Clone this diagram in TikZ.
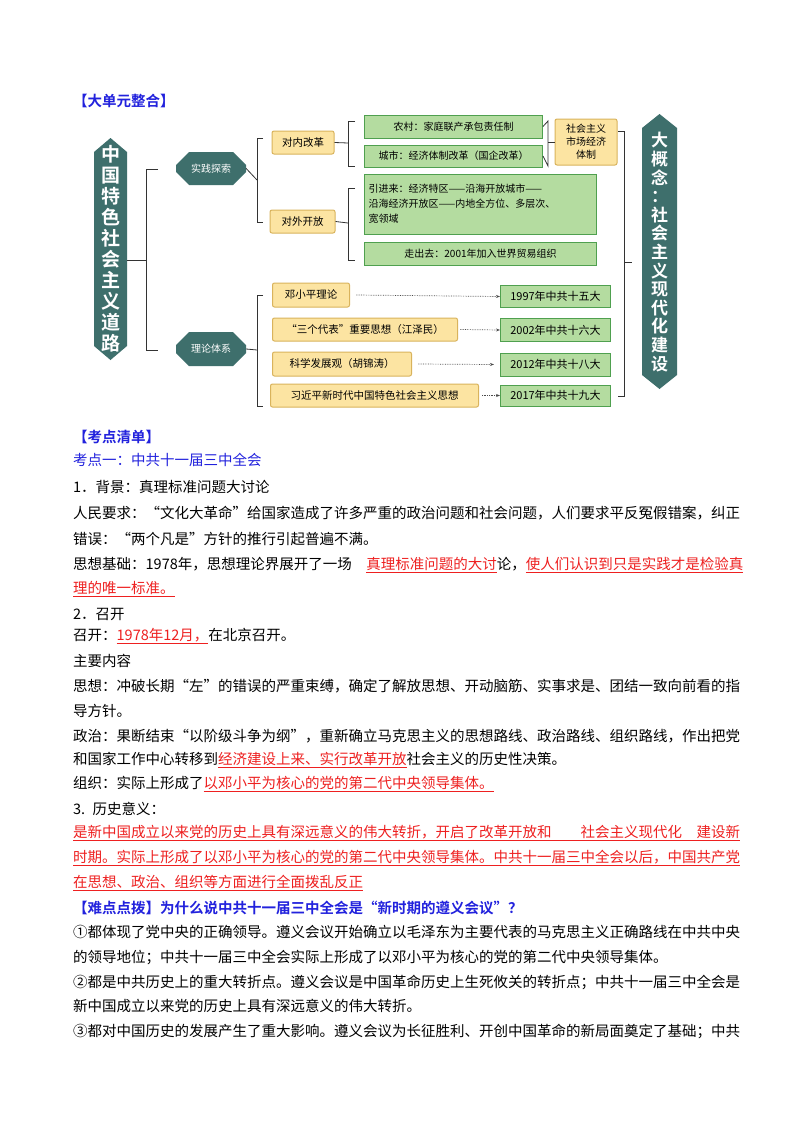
\documentclass[tikz,border=0pt]{standalone}
\usepackage{fontspec}
\setmainfont{Noto Sans CJK SC}[BoldFont={* Bold}]
\usepackage{xcolor}
\usetikzlibrary{shapes.misc, arrows.meta, positioning, calc}
\definecolor{mapteal}{HTML}{3E6F6C}
\definecolor{mapyellow}{HTML}{FCE4A2}
\definecolor{mapyedge}{HTML}{D9B35C}
\definecolor{mapgreen}{HTML}{B4DCA0}
\definecolor{mapgedge}{HTML}{4FA04F}
\definecolor{headblue}{HTML}{2222DD}
\definecolor{keyred}{HTML}{EE2020}
\newcommand{\keyu}[1]{\textcolor{keyred}{\underline{#1}}}
\tikzset{
  tealbox/.style={chamfered rectangle, chamfered rectangle xsep=5pt, chamfered rectangle ysep=8pt, fill=mapteal, text=white, font=\fontsize{10}{12}\selectfont, inner sep=2pt},
  ybox/.style={draw=mapyedge, fill=mapyellow, rounded corners=2pt, line width=1pt, font=\fontsize{10.5}{12}\selectfont, inner sep=2pt},
  gbox/.style={draw=mapgedge, fill=mapgreen, line width=1pt, font=\fontsize{10}{12}\selectfont, inner sep=3pt, align=left},
  brace/.style={draw=black!80, line width=0.8pt},
  ptr/.style={densely dotted, black!70, -{Stealth[length=4pt]}, line width=0.7pt},
  line/.style={anchor=west, font=\fontsize{14.5}{16}\selectfont, inner sep=0pt},
}
\begin{document}
\begin{tikzpicture}[x=1pt,y=-1pt]
  \useasboundingbox[fill=white] (0,0) rectangle (800,1132);

  % Header
  \node[line, text=headblue, font=\fontsize{14.5}{16}\selectfont\bfseries] (unithead) at (73,101) {【大单元整合】};

  % Side banners
  \fill[mapteal] (110.5,138) -- (127,152) -- (127,346) -- (110.5,360) -- (94,346) -- (94,152) -- cycle;
  \node[text=white, font=\fontsize{19}{21}\selectfont\bfseries, align=center] (road) at (110.5,249)
    {中\\国\\特\\色\\社\\会\\主\\义\\道\\路};
  \fill[mapteal] (659.5,114) -- (677,128) -- (677,375) -- (659.5,389) -- (642,375) -- (642,128) -- cycle;
  \node[text=white, font=\fontsize{17}{18.6}\selectfont\bfseries, align=center] (concept) at (659.5,252)
    {大\\概\\念\\：\\社\\会\\主\\义\\现\\代\\化\\建\\设};

  % Second level
  \node[tealbox, minimum width=70, minimum height=33] (practice) at (211,168.5) {实践探索};
  \node[tealbox, minimum width=70, minimum height=34] (theory) at (211,349) {理论体系};
  \draw[brace] (158,169) -- (146,169) -- (146,350) -- (158,350);
  \draw[brace] (127,260) -- (146,260);

  % Practice branch
  \node[ybox, minimum width=62, minimum height=23] (inner) at (303,142.5) {对内改革};
  \node[ybox, minimum width=65, minimum height=23] (outer) at (302.5,221.5) {对外开放};
  \draw[brace] (263,138) -- (257,138) -- (257,222) -- (263,222);
  \draw[brace] (practice.east) -- (257,180);

  \node[gbox, minimum width=178, minimum height=23, anchor=west] (rural) at (364,126.5) {农村：家庭联产承包责任制};
  \node[gbox, minimum width=178, minimum height=22, anchor=west] (urban) at (364,156) {城市：经济体制改革（国企改革）};
  \draw[brace] (355,121) -- (348,121) -- (348,166) -- (355,166);
  \draw[brace] (inner.east) -- (348,143);
  \draw[brace] (rural.east) -- (548,121) -- (548,166) -- (urban.east);
  \node[ybox, minimum width=62, minimum height=46, align=center, font=\fontsize{10}{13}\selectfont] (market) at (586,142)
    {社会主义\\市场经济\\体制};
  \draw[brace] (548,142) -- (market.west);

  \node[gbox, minimum width=232, minimum height=60, text width=224, anchor=west, font=\fontsize{10}{15}\selectfont] (bringin) at (364,204)
    {引进来：经济特区——沿海开放城市——\\沿海经济开放区——内地全方位、多层次、\\宽领域};
  \node[gbox, minimum width=232, minimum height=23, anchor=west] (goout) at (364,253.5) {走出去：2001年加入世界贸易组织};
  \draw[brace] (355,188) -- (348,188) -- (348,260) -- (355,260);
  \draw[brace] (outer.east) -- (348,223);

  % Theory branch
  \node[ybox, minimum width=77, minimum height=24, anchor=west] (deng) at (272,295) {邓小平理论};
  \node[ybox, minimum width=185, minimum height=23, anchor=west] (three) at (272,329.5) {“三个代表”重要思想（江泽民）};
  \node[ybox, minimum width=139, minimum height=24, anchor=west] (sci) at (272,364) {科学发展观（胡锦涛）};
  \node[ybox, minimum width=208, minimum height=23, anchor=west] (xi) at (270,395.5) {习近平新时代中国特色社会主义思想};
  \draw[brace] (263,295) -- (257,295) -- (257,406) -- (263,406);
  \draw[brace] (theory.east) -- (257,350);

  \node[gbox, minimum width=110, minimum height=22, anchor=west, font=\fontsize{11}{12}\selectfont] (y97) at (500,296.5) {1997年中共十五大};
  \node[gbox, minimum width=110, minimum height=23, anchor=west, font=\fontsize{11}{12}\selectfont] (y02) at (500,330) {2002年中共十六大};
  \node[gbox, minimum width=110, minimum height=23, anchor=west, font=\fontsize{11}{12}\selectfont] (y12) at (500,364.5) {2012年中共十八大};
  \node[gbox, minimum width=110, minimum height=21, anchor=west, font=\fontsize{11}{12}\selectfont] (y17) at (500,395.5) {2017年中共十九大};
  \draw[ptr] ([xshift=6pt]deng.east) -- (y97.west);
  \draw[ptr] ([xshift=2pt]three.east) -- (y02.west);
  \draw[ptr] ([xshift=6pt]sci.east) -- ([xshift=-6pt]y12.west);
  \draw[ptr] ([xshift=3pt]xi.east) -- (y17.west);

  % Right brace to concept
  \draw[brace] (618,131) -- (624,131) -- (624,396) -- (618,396);
  \draw[brace] (624,262) -- (632,262);

  % Text body
  \node[line, text=headblue, font=\fontsize{14.5}{16}\selectfont\bfseries] (listhead) at (73,437) {【考点清单】};
  \node[line, text=headblue] (pt1) at (73,460) {考点一：中共十一届三中全会};
  \node[line] (l1) at (73,487) {1．背景：真理标准问题大讨论};
  \node[line] (l2) at (73,513) {人民要求：“文化大革命”给国家造成了许多严重的政治问题和社会问题，人们要求平反冤假错案，纠正};
  \node[line] (l3) at (73,539) {错误：“两个凡是”方针的推行引起普遍不满。};
  \node[line] (l4) at (73,565) {思想基础：1978年，思想理论界展开了一场\quad\keyu{真理标准问题的大讨}论，\keyu{使人们认识到只是实践才是检验真}};
  \node[line] (l5) at (73,589) {\keyu{理的唯一标准。}};
  \node[line] (l6) at (73,614) {2．召开};
  \node[line] (l7) at (73,636) {召开：\keyu{1978年12月，}在北京召开。};
  \node[line] (l8) at (73,661) {主要内容};
  \node[line] (l9) at (73,686) {思想：冲破长期“左”的错误的严重束缚，确定了解放思想、开动脑筋、实事求是、团结一致向前看的指};
  \node[line] (l10) at (73,711) {导方针。};
  \node[line] (l11) at (73,736) {政治：果断结束“以阶级斗争为纲”，重新确立马克思主义的思想路线、政治路线、组织路线，作出把党};
  \node[line] (l12) at (73,760) {和国家工作中心转移到\keyu{经济建设上来、实行改革开放}社会主义的历史性决策。};
  \node[line] (l13) at (73,784) {组织：实际上形成了\keyu{以邓小平为核心的党的第二代中央领导集体。}};
  \node[line] (l14) at (73,809) {3.\enspace 历史意义：};
  \node[line] (l15) at (73,833) {\keyu{是新中国成立以来党的历史上具有深远意义的伟大转折，开启了改革开放和\qquad 社会主义现代化\quad 建设新}};
  \node[line] (l16) at (73,858) {\keyu{时期。实际上形成了以邓小平为核心的党的第二代中央领导集体。中共十一届三中全会以后，中国共产党}};
  \node[line] (l17) at (73,883) {\keyu{在思想、政治、组织等方面进行全面拨乱反正}};
  \node[line, text=headblue, font=\fontsize{14.5}{16}\selectfont\bfseries] (hardhead) at (73,908) {【难点点拨】为什么说中共十一届三中全会是“新时期的遵义会议”？};
  \node[line] (l18) at (73,932) {①都体现了党中央的正确领导。遵义会议开始确立以毛泽东为主要代表的马克思主义正确路线在中共中央};
  \node[line] (l19) at (73,957) {的领导地位；中共十一届三中全会实际上形成了以邓小平为核心的党的第二代中央领导集体。};
  \node[line] (l20) at (73,982) {②都是中共历史上的重大转折点。遵义会议是中国革命历史上生死攸关的转折点；中共十一届三中全会是};
  \node[line] (l21) at (73,1006) {新中国成立以来党的历史上具有深远意义的伟大转折。};
  \node[line] (l22) at (73,1031) {③都对中国历史的发展产生了重大影响。遵义会议为长征胜利、开创中国革命的新局面奠定了基础；中共};
\end{tikzpicture}
\end{document}
